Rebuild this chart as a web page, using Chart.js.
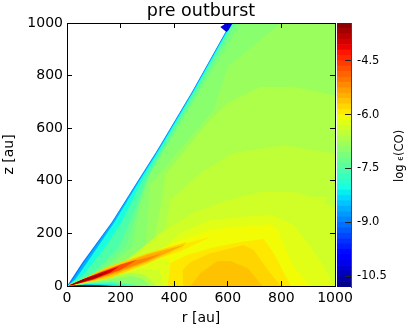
<!DOCTYPE html>
<html>
<head>
<meta charset="utf-8">
<script src="https://cdn.jsdelivr.net/npm/chart.js"></script>
<style>
body { margin: 0; background: #fff; }
canvas { position: absolute; top: 0; }
</style>
</head>
<body>
<canvas id="main" width="411" height="331" style="left:0"></canvas>
<canvas id="bar" width="81" height="331" style="left:330px"></canvas>
<script>
const rTicks = [0, 200, 400, 600, 800, 1000];
const zTicks = [0, 200, 400, 600, 800, 1000];
const barTicks = [-10.5, -9, -7.5, -6, -4.5];
const barLow = -10.8;
const barHigh = -3.45;
const barStep = 0.15;
const barLevels = [-10.8, -10.65, -10.5, -10.35, -10.2, -10.05, -9.9, -9.75, -9.6, -9.45, -9.3, -9.15, -9, -8.85, -8.7, -8.55, -8.4, -8.25, -8.1, -7.95, -7.8, -7.65, -7.5, -7.35, -7.2, -7.05, -6.9, -6.75, -6.6, -6.45, -6.3, -6.15, -6, -5.85, -5.7, -5.55, -5.4, -5.25, -5.1, -4.95, -4.8, -4.65, -4.5, -4.35, -4.2, -4.05, -3.9, -3.75, -3.6];

// contour regions as [r, z] in au, painted lowest level first
const wedgeBase = [[0,0],[56,87],[168,244],[266,403],[337,517],[467,740],[610,1000],[1000,1000],[1000,0]];
const wedge13 = [[0,0],[14,12],[62,87],[171,244],[268,403],[339,517],[469,740],[612,1000],[1000,1000],[1000,0]];
const wedge18 = [[0,0],[30,24],[74,87],[178,244],[272,403],[342,517],[471,740],[614,1000],[1000,1000],[1000,0]];
const wedge21 = [[0,0],[60,40],[143,148],[205,244],[281,403],[347,517],[474,740],[617,1000],[1000,1000],[1000,0]];
const wedge23 = [[0,0],[90,40],[193,148],[235,244],[295,403],[355,517],[481,740],[623,1000],[1000,1000],[1000,0]];
const wedge24 = [[0,0],[100,40],[220,148],[258,270],[300,403],[362,517],[490,740],[632,1000],[1000,1000],[1000,0]];
const wedge25 = [[0,0],[110,40],[243,148],[270,300],[311,430],[453,669],[548,830],[650,1000],[1000,1000],[1000,0]];
const wedge26 = [[0,0],[130,50],[292,148],[311,384],[430,530],[547,669],[600,833],[798,1000],[1000,1000],[1000,0]];
const wedge27 = [[0,0],[150,55],[320,148],[350,300],[367,422],[442,517],[524,620],[600,696],[723,757],[846,757],[996,726],[1000,726],[1000,0]];
const wedge28 = [[0,0],[170,60],[355,148],[386,327],[498,430],[622,506],[809,536],[985,506],[1000,500],[1000,0]];
const wedge29 = [[0,0],[190,70],[348,201],[472,278],[599,327],[723,357],[846,357],[910,338],[974,338],[959,316],[1000,300],[1000,0]];
const wedge30 = [[0,0],[200,72],[348,130],[423,201],[535,251],[659,262],[760,270],[846,232],[910,148],[966,61],[992,0]];
const hill31 = [[0,0],[210,75],[400,165],[540,215],[640,225],[760,235],[786,213],[846,72],[910,0]];
const flare32 = [[0,0],[220,80],[348,137],[535,186],[420,130],[300,90]];
const hill32 = [[375,0],[386,87],[449,118],[535,144],[648,167],[734,179],[771,125],[835,0]];
const hill33 = [[434,0],[431,61],[461,91],[535,125],[659,156],[697,137],[749,61],[798,0]];
const hill34 = [[461,0],[498,49],[562,95],[610,95],[674,68],[730,0]];
const under30 = [[0,0],[100,22],[240,80],[340,120],[386,90],[375,0]];
const under29 = [[30,5],[150,38],[280,65],[345,60],[360,0],[30,0]];
const under27 = [[40,6],[150,32],[240,50],[290,42],[335,0],[30,0]];
const under25 = [[40,5],[120,20],[240,38],[280,28],[310,0],[30,0]];
const under21 = [[30,3],[100,12],[170,15],[250,5],[280,0],[20,0]];
const under17 = [[20,2],[90,8],[170,6],[230,0],[15,0]];
const under10 = [[15,1],[70,5],[135,3],[170,0],[12,0]];
const under5 = [[15,0.5],[60,3],[120,1.5],[135,0],[15,0]];
const disc33 = [[5,1],[150,72],[300,125],[445,166],[430,146],[300,85],[160,30]];
const disc35 = [[5,1],[120,54],[220,90],[300,120],[440,157],[300,92],[180,46],[100,22]];
const disc37 = [[5,1],[120,50],[240,92],[355,124],[300,97],[200,60],[120,30]];
const disc40 = [[5,1],[110,46],[200,82],[262,100],[200,62],[140,40],[100,25]];
const disc44 = [[5,1],[80,34],[140,56],[195,74],[160,50],[100,26],[50,11]];
const disc47 = [[5,1],[60,26],[100,38],[160,58],[120,37],[60,16],[20,4]];
const notch = [[572,985],[584,992],[592,1000],[618,1000],[603,973],[595,966]];

const contourLayers = [
    [-9.0, wedgeBase], [-8.6, wedge13], [-8.0, wedge18], [-7.55, wedge21], [-7.3, wedge23],
    [-7.15, wedge24], [-7.0, wedge25], [-6.85, wedge26], [-6.68, wedge27], [-6.52, wedge28],
    [-6.37, wedge29], [-6.22, wedge30], [-6.07, hill31], [-5.92, flare32], [-5.92, hill32],
    [-5.77, hill33], [-5.62, hill34], [-6.22, under30], [-6.37, under29], [-6.68, under27],
    [-7.0, under25], [-7.6, under21], [-8.2, under17], [-9.3, under10], [-10.0, under5],
    [-5.77, disc33], [-5.45, disc35], [-5.15, disc37], [-4.7, disc40], [-4.1, disc44], [-3.6, disc47],
    [-10.2, notch]
];

function ramp(t, pts) {
    for (let i = 1; i < pts.length; i++) {
        if (t <= pts[i][0]) {
            const a = pts[i - 1], b = pts[i];
            return a[1] + (b[1] - a[1]) * (t - a[0]) / (b[0] - a[0]);
        }
    }
    return pts[pts.length - 1][1];
}

function jet(level) {
    const t = (level - barLow) / (barHigh - barLow);
    const r = ramp(t, [[0, 0], [0.35, 0], [0.66, 1], [0.89, 1], [1, 0.5]]);
    const g = ramp(t, [[0, 0], [0.125, 0], [0.375, 1], [0.64, 1], [0.91, 0], [1, 0]]);
    const b = ramp(t, [[0, 0.5], [0.11, 1], [0.34, 1], [0.65, 0], [1, 0]]);
    return `rgb(${Math.round(r * 255)},${Math.round(g * 255)},${Math.round(b * 255)})`;
}

// fills each line dataset as a closed shape, using the points the scales placed
const polygonFill = {
    id: 'polygonFill',
    beforeDatasetDraw(chart, args) {
        const area = chart.chartArea;
        const ctx = chart.ctx;
        ctx.save();
        ctx.beginPath();
        ctx.rect(area.left, area.top, area.right - area.left, area.bottom - area.top);
        ctx.clip();
        ctx.fillStyle = chart.data.datasets[args.index].backgroundColor;
        ctx.beginPath();
        args.meta.dataset.path(ctx);
        ctx.closePath();
        ctx.fill();
        ctx.restore();
    }
};

// rotated colorbar label, the epsilon is set smaller like the original
const barLabel = {
    id: 'barLabel',
    afterDraw(chart) {
        const ctx = chart.ctx;
        ctx.save();
        ctx.translate(69, 182);
        ctx.rotate(-Math.PI / 2);
        ctx.fillStyle = '#000';
        ctx.textBaseline = 'alphabetic';
        ctx.translate(0, 4);
        let x = 0;
        [['log ', 11.5], ['\u03F5', 8], ['(CO)', 11.5]].forEach(part => {
            ctx.font = part[1] + 'px "DejaVu Sans"';
            ctx.fillText(part[0], x, 0);
            x += ctx.measureText(part[0]).width;
        });
        ctx.restore();
    }
};

const font = '"DejaVu Sans"';
const edgeGrid = { color: '#000', drawOnChartArea: false, tickLength: -5, z: 1 };
const edgeBorder = { color: '#000', width: 1, z: 2 };

new Chart(document.getElementById('main'), {
    type: 'scatter',
    data: {
        datasets: contourLayers.map((layer, i) => ({
            data: layer[1].map(p => ({ x: p[0], y: p[1] })),
            showLine: true,
            borderWidth: 0,
            pointRadius: 0,
            backgroundColor: jet(layer[0]),
            order: contourLayers.length - i
        }))
    },
    options: {
        responsive: false,
        animation: false,
        events: [],
        layout: { padding: { right: 76 } },
        plugins: {
            legend: { display: false },
            tooltip: { enabled: false },
            title: {
                display: true,
                text: 'pre outburst',
                fullSize: false,
                color: '#000',
                font: { family: font, size: 17.5, weight: 'normal', lineHeight: 1.2 },
                padding: { top: 1, bottom: 0 }
            }
        },
        scales: {
            x: {
                type: 'linear', min: 0, max: 1000, position: 'bottom',
                afterBuildTicks: s => { s.ticks = rTicks.map(v => ({ value: v })); },
                afterFit: s => { s.height = 45; },
                grid: edgeGrid, border: edgeBorder,
                ticks: { color: '#000', padding: 9, maxRotation: 0, autoSkip: false, font: { family: font, size: 14 }, callback: v => String(v) },
                title: { display: true, text: 'r [au]', color: '#000', padding: 4, font: { family: font, size: 14 } }
            },
            y: {
                type: 'linear', min: 0, max: 1000, position: 'left',
                afterBuildTicks: s => { s.ticks = zTicks.map(v => ({ value: v })); },
                afterFit: s => { s.width = 67; },
                grid: edgeGrid, border: edgeBorder,
                ticks: { color: '#000', padding: 9, autoSkip: false, font: { family: font, size: 14 }, callback: v => String(v) },
                title: { display: true, text: 'z [au]', color: '#000', padding: 1, font: { family: font, size: 14 } }
            },
            x2: {
                type: 'linear', min: 0, max: 1000, position: 'top',
                afterBuildTicks: s => { s.ticks = rTicks.map(v => ({ value: v })); },
                afterFit: s => { s.height = 1; },
                grid: edgeGrid, border: edgeBorder,
                ticks: { display: false }
            },
            y2: {
                type: 'linear', min: 0, max: 1000, position: 'right',
                afterBuildTicks: s => { s.ticks = zTicks.map(v => ({ value: v })); },
                afterFit: s => { s.width = 0; },
                grid: edgeGrid, border: edgeBorder,
                ticks: { display: false }
            }
        }
    },
    plugins: [polygonFill]
});

new Chart(document.getElementById('bar'), {
    type: 'bar',
    data: {
        labels: ['level'],
        datasets: barLevels.map(v => ({
            data: [[v, v + barStep]],
            backgroundColor: jet(v + barStep / 2),
            borderWidth: 0,
            grouped: false,
            barPercentage: 1,
            categoryPercentage: 1
        }))
    },
    options: {
        responsive: false,
        animation: false,
        events: [],
        layout: { padding: { left: 7, top: 23, bottom: 44 } },
        plugins: { legend: { display: false }, tooltip: { enabled: false } },
        scales: {
            x: { display: false },
            y: {
                type: 'linear', min: barLow, max: barHigh, position: 'right',
                afterBuildTicks: s => { s.ticks = barTicks.map(v => ({ value: v })); },
                afterFit: s => { s.width = 60; },
                grid: { color: '#222', drawOnChartArea: false, tickLength: -6, z: 1 },
                border: { color: '#444', width: 1, z: 2 },
                ticks: {
                    color: '#000', padding: 12, autoSkip: false, font: { family: font, size: 11.5 },
                    callback: v => v.toFixed(1)
                }
            }
        }
    },
    plugins: [barLabel]
});
</script>
</body>
</html>
